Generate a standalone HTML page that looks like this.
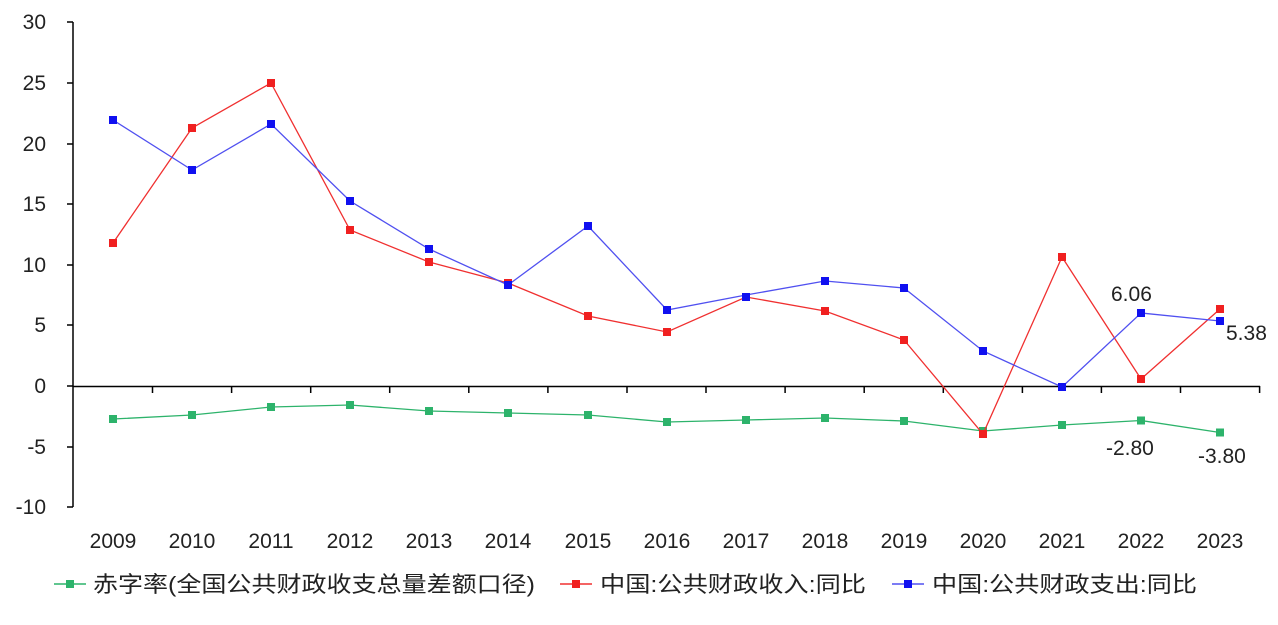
<!DOCTYPE html>
<html><head><meta charset="utf-8"><style>
body{margin:0;background:#fff;}
svg text{font-family:"Liberation Sans","Noto Sans CJK SC",sans-serif;fill:#222;}
</style></head><body>
<svg width="1278" height="620" xmlns="http://www.w3.org/2000/svg">
<g font-size="21" text-anchor="end">
<text x="46" y="29">30</text><text x="46" y="90">25</text><text x="46" y="151">20</text>
<text x="46" y="211">15</text><text x="46" y="272">10</text><text x="46" y="332">5</text>
<text x="46" y="393">0</text><text x="46" y="454">-5</text><text x="46" y="514">-10</text>
</g>
<g stroke="#000" stroke-width="1.5" fill="none">
<line x1="73" y1="22" x2="73" y2="507"/>
<line x1="73" y1="386.5" x2="1260" y2="386.5"/>
<path d="M67 22H73M67 83H73M67 144H73M67 204H73M67 265H73M67 325H73M67 386H73M67 447H73M67 507H73"/>
<path d="M152.5 386V393M231.6 386V393M310.7 386V393M389.7 386V393M468.8 386V393M547.9 386V393M627 386V393M706 386V393M785.1 386V393M864.2 386V393M943.3 386V393M1022.4 386V393M1101.4 386V393M1180.5 386V393M1259.6 386V393"/>
</g>
<g font-size="21" text-anchor="middle">
<text x="113" y="548">2009</text><text x="192" y="548">2010</text><text x="271" y="548">2011</text><text x="350" y="548">2012</text><text x="429" y="548">2013</text><text x="508" y="548">2014</text><text x="588" y="548">2015</text><text x="667" y="548">2016</text><text x="746" y="548">2017</text><text x="825" y="548">2018</text><text x="904" y="548">2019</text><text x="983" y="548">2020</text><text x="1062" y="548">2021</text><text x="1141" y="548">2022</text><text x="1220" y="548">2023</text>
</g>
<polyline fill="none" stroke="#2db36b" stroke-width="1.3" points="113,419 192,415 271,407 350,405 429,411 508,413 588,415 667,422 746,420 825,418 904,421 983,431 1062,425 1141,420.5 1220,432.5"/>
<g fill="#2db36b"><rect x="109" y="415" width="8" height="8"/><rect x="188" y="411" width="8" height="8"/><rect x="267" y="403" width="8" height="8"/><rect x="346" y="401" width="8" height="8"/><rect x="425" y="407" width="8" height="8"/><rect x="504" y="409" width="8" height="8"/><rect x="584" y="411" width="8" height="8"/><rect x="663" y="418" width="8" height="8"/><rect x="742" y="416" width="8" height="8"/><rect x="821" y="414" width="8" height="8"/><rect x="900" y="417" width="8" height="8"/><rect x="979" y="427" width="8" height="8"/><rect x="1058" y="421" width="8" height="8"/><rect x="1137" y="416.5" width="8" height="8"/><rect x="1216" y="428.5" width="8" height="8"/></g>
<polyline fill="none" stroke="#f03030" stroke-width="1.3" points="113,243 192,128 271,83 350,230 429,262 508,283 588,316 667,332 746,297 825,311 904,340 983,434 1062,257 1141,379 1220,309"/>
<g fill="#f02020"><rect x="109" y="239" width="8" height="8"/><rect x="188" y="124" width="8" height="8"/><rect x="267" y="79" width="8" height="8"/><rect x="346" y="226" width="8" height="8"/><rect x="425" y="258" width="8" height="8"/><rect x="504" y="279" width="8" height="8"/><rect x="584" y="312" width="8" height="8"/><rect x="663" y="328" width="8" height="8"/><rect x="742" y="293" width="8" height="8"/><rect x="821" y="307" width="8" height="8"/><rect x="900" y="336" width="8" height="8"/><rect x="979" y="430" width="8" height="8"/><rect x="1058" y="253" width="8" height="8"/><rect x="1137" y="375" width="8" height="8"/><rect x="1216" y="305" width="8" height="8"/></g>
<polyline fill="none" stroke="#5050f0" stroke-width="1.3" points="113,120 192,170 271,124 350,201 429,249 508,285 588,226 667,310 746,295 825,281 904,288 983,351 1062,387 1141,313 1220,321"/>
<g fill="#1010f0"><rect x="109" y="116" width="8" height="8"/><rect x="188" y="166" width="8" height="8"/><rect x="267" y="120" width="8" height="8"/><rect x="346" y="197" width="8" height="8"/><rect x="425" y="245" width="8" height="8"/><rect x="504" y="281" width="8" height="8"/><rect x="584" y="222" width="8" height="8"/><rect x="663" y="306" width="8" height="8"/><rect x="742" y="293" width="8" height="8"/><rect x="821" y="277" width="8" height="8"/><rect x="900" y="284" width="8" height="8"/><rect x="979" y="347" width="8" height="8"/><rect x="1058" y="383" width="8" height="8"/><rect x="1137" y="309" width="8" height="8"/><rect x="1216" y="317" width="8" height="8"/></g>
<g font-size="21">
<text x="1111" y="301">6.06</text><text x="1226" y="340">5.38</text>
<text x="1106" y="455">-2.80</text><text x="1198" y="463">-3.80</text>
</g>
<g font-size="22">
<line x1="54" y1="584" x2="86" y2="584" stroke="#2db36b" stroke-width="1.5"/><rect x="66" y="580" width="8" height="8" fill="#2db36b"/>
<text x="93" y="592" textLength="442" lengthAdjust="spacingAndGlyphs">赤字率(全国公共财政收支总量差额口径)</text>
<line x1="560" y1="584" x2="592" y2="584" stroke="#f03030" stroke-width="1.5"/><rect x="572" y="580" width="8" height="8" fill="#f02020"/>
<text x="600" y="592" textLength="266" lengthAdjust="spacingAndGlyphs">中国:公共财政收入:同比</text>
<line x1="892" y1="584" x2="924" y2="584" stroke="#5050f0" stroke-width="1.5"/><rect x="904" y="580" width="8" height="8" fill="#1010f0"/>
<text x="932" y="592" textLength="265" lengthAdjust="spacingAndGlyphs">中国:公共财政支出:同比</text>
</g>
</svg>
</body></html>
